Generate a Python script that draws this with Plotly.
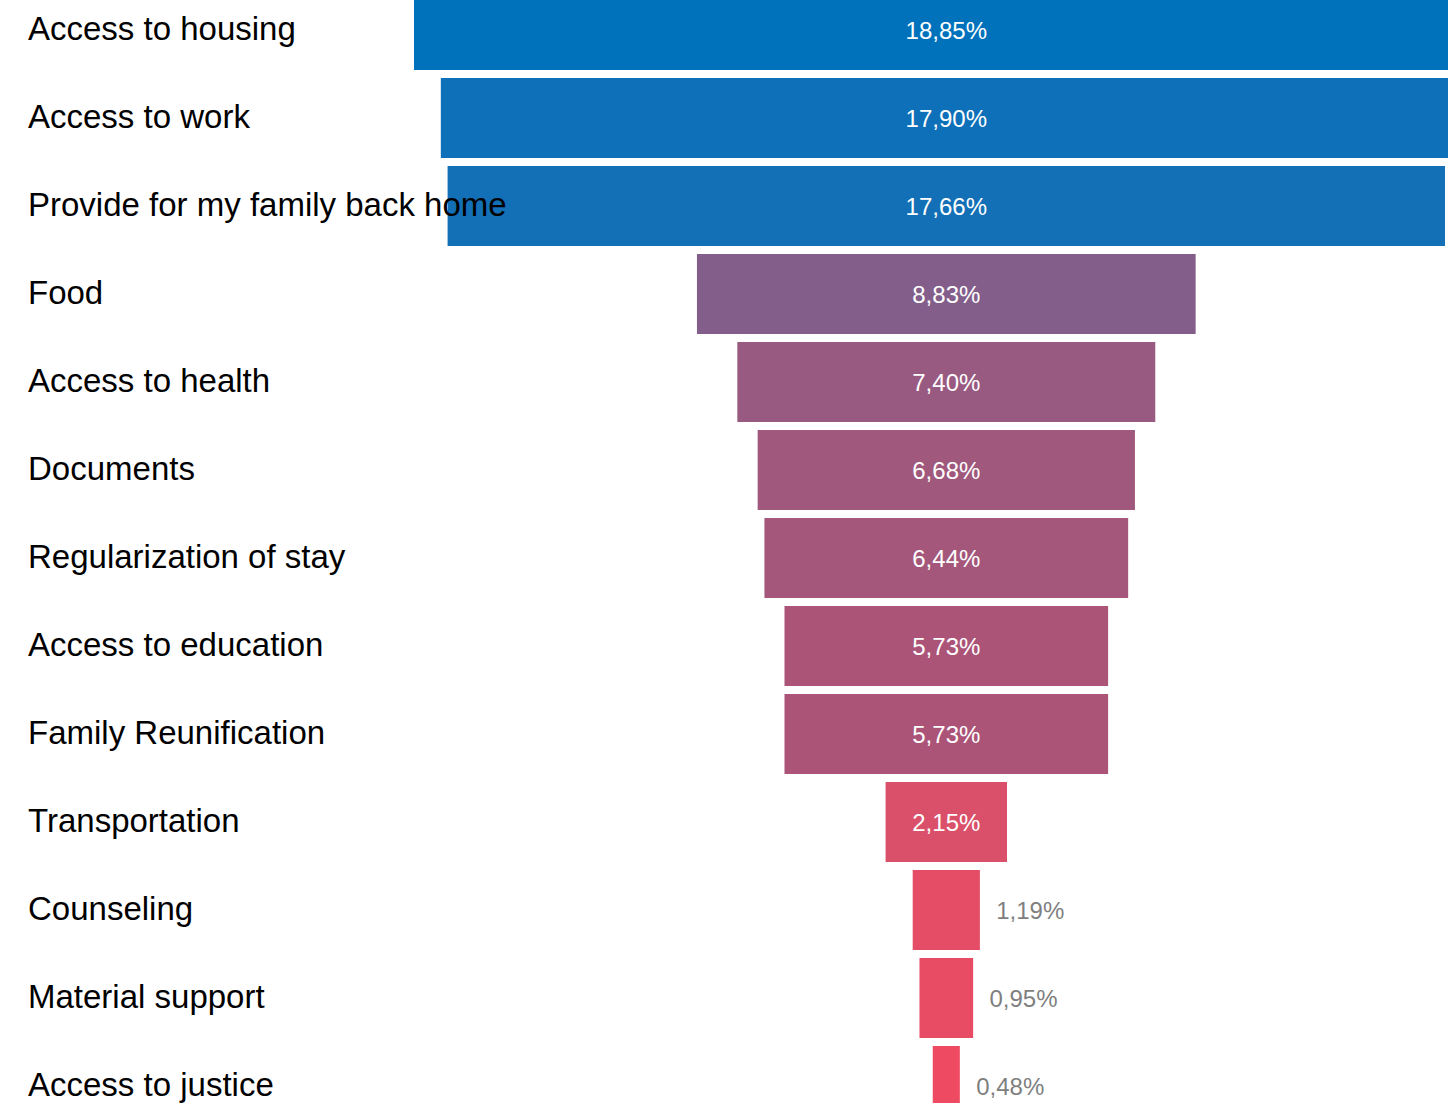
import plotly.graph_objects as go

# Needs reported, share of responses (%)
categories = [
    "Access to housing",
    "Access to work",
    "Provide for my family back home",
    "Food",
    "Access to health",
    "Documents",
    "Regularization of stay",
    "Access to education",
    "Family Reunification",
    "Transportation",
    "Counseling",
    "Material support",
    "Access to justice",
]
shares = [18.85, 17.90, 17.66, 8.83, 7.40, 6.68, 6.44, 5.73, 5.73, 2.15, 1.19, 0.95, 0.48]
bar_colors = [
    "#0072BC", "#0D70B8", "#136FB6",
    "#835E8B", "#985A81", "#A0587C", "#A4577B",
    "#AB5478", "#AB5478",
    "#DA4F69", "#E54D66", "#E84C64", "#EE4B62",
]

FONT = "Arial, Liberation Sans, sans-serif"
OUTSIDE_MAX = 1.5  # bars narrower than this get their value printed outside

text_pos = ["outside" if v < OUTSIDE_MAX else "inside" for v in shares]
labels = [
    ("\u00a0\u00a0" if v < OUTSIDE_MAX else "") + f"{v:.2f}".replace(".", ",") + "%"
    for v in shares
]

fig = go.Figure(
    go.Funnel(
        y=categories,
        x=shares,
        text=labels,
        texttemplate="%{text}",
        textposition=text_pos,
        insidetextanchor="middle",
        insidetextfont=dict(family=FONT, size=24, color="#FFFFFF"),
        outsidetextfont=dict(family=FONT, size=24, color="#7F7F7F"),
        marker=dict(color=bar_colors, line=dict(width=0)),
        connector=dict(visible=False),
        hoverinfo="y+x",
    )
)

W, H = 1448, 1103
fig.update_layout(
    width=W,
    height=H,
    margin=dict(l=0, r=0, t=0, b=0),
    paper_bgcolor="#FFFFFF",
    plot_bgcolor="#FFFFFF",
    funnelgap=0.0909,
    showlegend=False,
    font=dict(family=FONT),
    xaxis=dict(visible=False, range=[-16.755, 8.883], fixedrange=True),
    yaxis=dict(visible=False, range=[12.193, -0.341], fixedrange=True),
)

# Category names, left-aligned in their own column
for cat in categories:
    fig.add_annotation(
        x=26 / W,
        xref="paper",
        y=cat,
        yref="y",
        yshift=2,
        text=cat,
        showarrow=False,
        xanchor="left",
        yanchor="middle",
        font=dict(family=FONT, size=33, color="#000000"),
    )

fig.write_html("out.html")
